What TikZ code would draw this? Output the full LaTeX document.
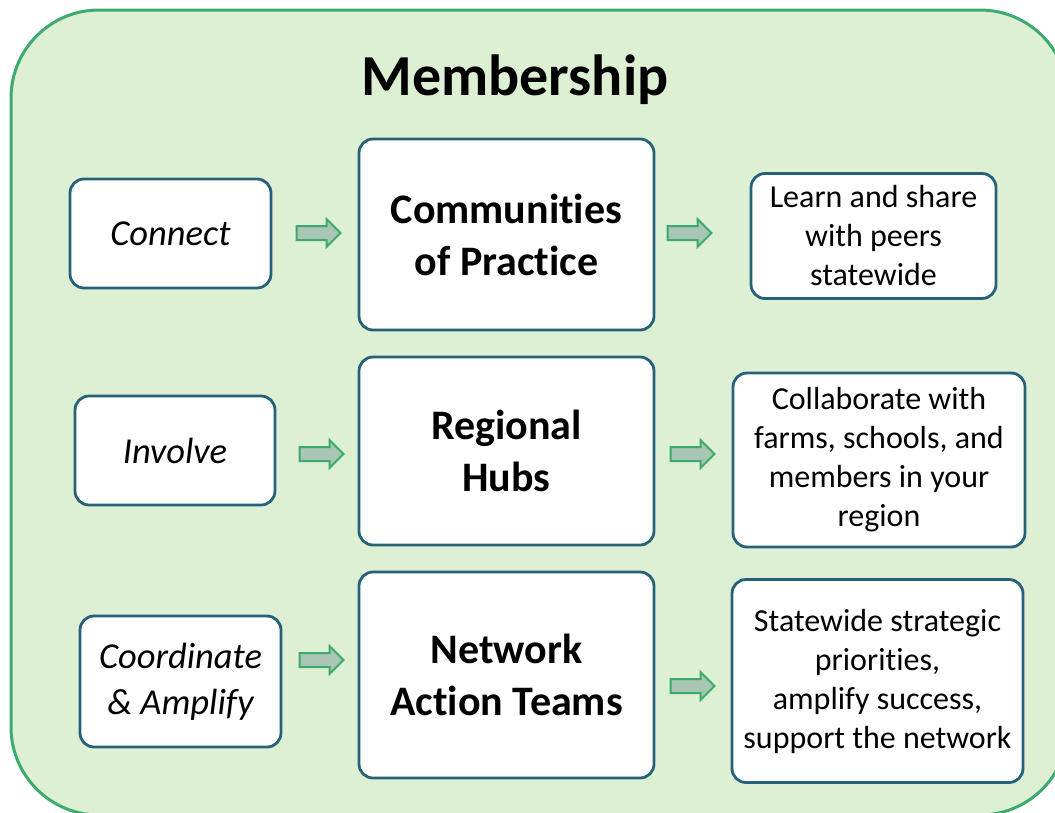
\documentclass[tikz,border=0pt]{standalone}
\usepackage{fontspec}
\setmainfont{Carlito}[Ligatures=NoCommon]
\usetikzlibrary{shapes.arrows}
\definecolor{outerfill}{HTML}{DEF0D3}
\definecolor{outerline}{HTML}{3DAA6F}
\definecolor{boxline}{HTML}{25627A}
\definecolor{arrfill}{HTML}{A9C5B4}
\definecolor{arrline}{HTML}{3BAA6B}
\begin{document}
\begin{tikzpicture}[x=1pt,y=-1pt,
  box/.style={draw=boxline, line width=2.8pt, fill=white, rounded corners=14pt, align=center, inner sep=0pt},
  sidebox/.style={box, font=\fontsize{36.5}{46}\selectfont\itshape},
  mainbox/.style={box, font=\fontsize{42}{52}\selectfont\bfseries},
  descbox/.style={box, font=\fontsize{32}{39}\selectfont},
  blockarrow/.style={single arrow, draw=arrline, line width=2pt, fill=arrfill,
    minimum height=44pt, text height=0pt, text depth=0pt, text width=0pt,
    inner xsep=0pt, inner ysep=6pt, single arrow head extend=7pt,
    single arrow head indent=0pt, shape border rotate=0}]
\useasboundingbox (0,0) rectangle (1055,812);
\clip (0,0) rectangle (1055,812);
\draw[outerline, line width=3pt, fill=outerfill, rounded corners=88pt] (11,10) rectangle (1068,815);
\node[font=\fontsize{58}{68}\selectfont\bfseries] (title) at (515,80) {Membership};

\node[sidebox, minimum width=201pt, minimum height=109pt] (connect) at (170.5,233.5) {Connect};
\node[sidebox, minimum width=200pt, minimum height=109pt] (involve) at (175,450.5) {Involve};
\node[sidebox, minimum width=201pt, minimum height=131pt] (coord) at (180.5,681.5) {Coordinate\\\& Amplify};

\node[mainbox, minimum width=295pt, minimum height=191pt] (cop) at (506.5,234.5) {Communities\\of Practice};
\node[mainbox, minimum width=295pt, minimum height=188pt] (hubs) at (506.5,451) {Regional\\Hubs};
\node[mainbox, minimum width=295pt, minimum height=206pt] (nat) at (506.5,675) {Network\\Action Teams};

\node[descbox, minimum width=245pt, minimum height=125pt] (learn) at (873.5,236) {Learn and share\\with peers\\statewide};
\node[descbox, minimum width=292pt, minimum height=174pt] (collab) at (879,460) {Collaborate with\\farms, schools, and\\members in your\\region};
\node[descbox, minimum width=291pt, minimum height=203pt] (state) at (877.5,681) {Statewide strategic\\priorities,\\amplify success,\\support the network};

\node[blockarrow] (a1) at (315,233) {};
\node[blockarrow] (a2) at (318,454) {};
\node[blockarrow] (a3) at (318,660) {};
\node[blockarrow] (b1) at (686,233) {};
\node[blockarrow] (b2) at (689,454) {};
\node[blockarrow] (b3) at (689,686) {};
\end{tikzpicture}
\end{document}
